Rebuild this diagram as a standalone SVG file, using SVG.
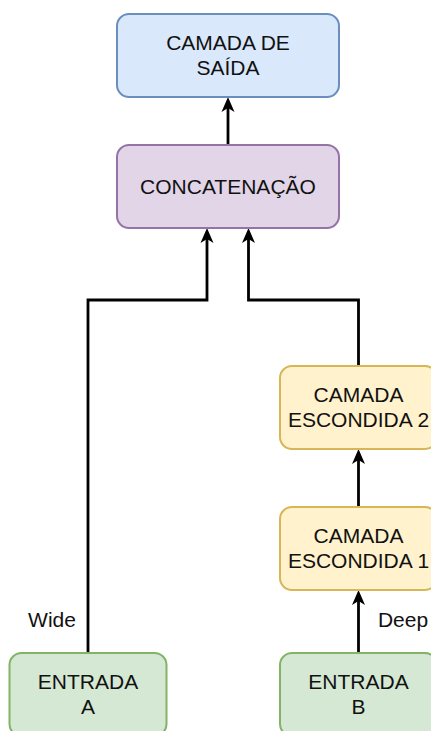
<svg xmlns="http://www.w3.org/2000/svg" width="431" height="731" viewBox="0 0 431 731">
<style>
.node{stroke-width:2}
.t{font-family:"Liberation Sans",Arial,sans-serif;font-size:21px;fill:#111;text-anchor:middle}
.c{fill:none;stroke:#000;stroke-width:2.8;marker-end:url(#ah)}
</style>
<defs>
<marker id="ah" markerUnits="userSpaceOnUse" markerWidth="16" markerHeight="14" refX="4" refY="7" orient="auto" viewBox="0 0 16 14">
<path d="M15,7 L0,0.5 L4,7 L0,13.5 Z" fill="#000"/>
</marker>
</defs>
<rect width="431" height="731" fill="#fff"/>
<g id="connectors">
<path class="c" d="M228,145 V108"/>
<path class="c" d="M88,653 V300 H207 V239"/>
<path class="c" d="M358.5,366 V300 H248.5 V239"/>
<path class="c" d="M358.5,507 V460"/>
<path class="c" d="M358.5,653 V601"/>
</g>
<g id="saida">
<rect class="node" x="117" y="14" width="222" height="83" rx="12" fill="#dae8fc" stroke="#6c8ebf"/>
<text class="t" x="228" y="50">CAMADA DE</text>
<text class="t" x="228" y="75">SAÍDA</text>
</g>
<g id="concat">
<rect class="node" x="117" y="145" width="222" height="83" rx="12" fill="#e1d5e7" stroke="#9673a6"/>
<text class="t" x="228" y="193.5">CONCATENAÇÃO</text>
</g>
<g id="escondida2">
<rect class="node" x="280" y="366" width="157" height="83" rx="12" fill="#fff2cc" stroke="#d6b656"/>
<text class="t" x="358.5" y="402">CAMADA</text>
<text class="t" x="358.5" y="427">ESCONDIDA 2</text>
</g>
<g id="escondida1">
<rect class="node" x="280" y="507" width="157" height="83" rx="12" fill="#fff2cc" stroke="#d6b656"/>
<text class="t" x="358.5" y="543">CAMADA</text>
<text class="t" x="358.5" y="568">ESCONDIDA 1</text>
</g>
<g id="entradaA">
<rect class="node" x="9.5" y="653" width="157" height="83" rx="12" fill="#d5e8d4" stroke="#82b366"/>
<text class="t" x="88" y="689">ENTRADA</text>
<text class="t" x="88" y="714">A</text>
</g>
<g id="entradaB">
<rect class="node" x="280" y="653" width="157" height="83" rx="12" fill="#d5e8d4" stroke="#82b366"/>
<text class="t" x="358.5" y="689">ENTRADA</text>
<text class="t" x="358.5" y="714">B</text>
</g>
<g id="labels">
<text class="t" x="52" y="627">Wide</text>
<text class="t" x="403" y="627">Deep</text>
</g>
</svg>
